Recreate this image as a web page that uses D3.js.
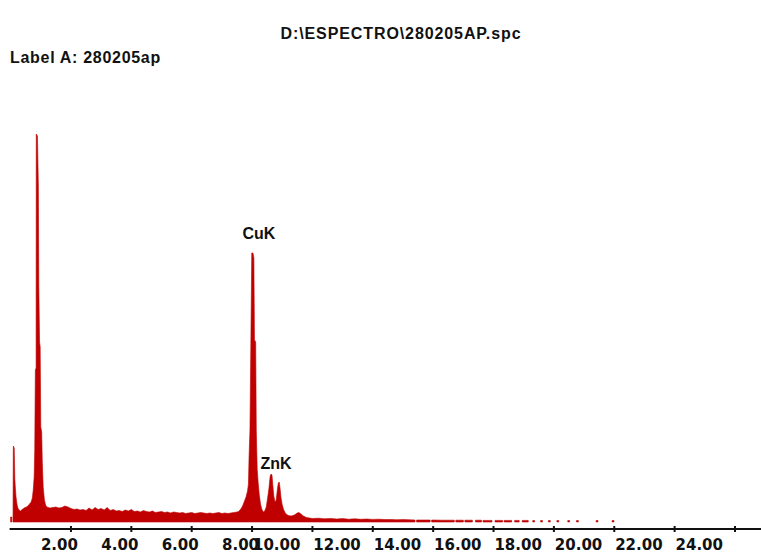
<!DOCTYPE html>
<html>
<head>
<meta charset="utf-8">
<script src="https://cdn.jsdelivr.net/npm/d3@7/dist/d3.min.js"></script>
<style>
  html, body { margin: 0; padding: 0; background: #fff; }
  svg { display: block; }
</style>
</head>
<body>
<div id="chart"></div>
<script>
// EDS spectrum of sample 280205ap: energy (keV) vs. counts.
// A null count marks a gap where no counts were recorded.
const energyKeV = [
  0.00, 0.04, 0.06,
  0.08, 0.09, 0.12, 0.14, 0.16, 0.18, 0.21, 0.24, 0.28, 0.33, 0.38, 0.43, 0.48, 0.53, 0.58, 0.63, 0.68,
  0.72, 0.75, 0.78, 0.80, 0.82, 0.845, 0.85, 0.89, 0.92, 0.935, 0.96, 0.98, 1.00, 1.03, 1.05, 1.08, 1.12, 1.16,
  1.2, 1.3, 1.4, 1.5, 1.6, 1.7, 1.8, 1.9, 2.0, 2.1, 2.2, 2.3, 2.4, 2.5, 2.6, 2.7, 2.8, 2.9,
  3.0, 3.1, 3.2, 3.3, 3.4, 3.5, 3.6, 3.7, 3.8, 3.9, 4.0, 4.1, 4.2, 4.3, 4.4, 4.5, 4.6, 4.7, 4.8, 4.9,
  5.0, 5.1, 5.2, 5.3, 5.4, 5.5, 5.6, 5.7, 5.8, 5.9, 6.0, 6.1, 6.2, 6.3, 6.4, 6.5, 6.6, 6.7, 6.8, 6.9,
  7.0, 7.1, 7.2, 7.3, 7.4, 7.5, 7.55, 7.6, 7.65, 7.7, 7.75, 7.8, 7.85, 7.88, 7.9, 7.93, 7.96, 7.99,
  8.03, 8.06, 8.08, 8.12, 8.14, 8.17, 8.2, 8.24, 8.28, 8.32, 8.37, 8.42, 8.47, 8.52, 8.56, 8.6, 8.63,
  8.66, 8.69, 8.72, 8.76, 8.8, 8.84, 8.87, 8.9, 8.93, 8.96, 9.0, 9.05, 9.1, 9.15, 9.2, 9.3, 9.4, 9.5,
  9.55, 9.6, 9.7, 9.8, 9.9, 10.0, 10.2, 10.4, 10.6, 10.8, 11.0, 11.2, 11.4, 11.6, 11.8, 12.0, 12.2,
  12.4, 12.6, 12.8, 13.0, 13.4, 13.42,
  13.45, 13.9, 13.92,
  13.95, 14.3, 14.7, 14.72,
  14.75, 15.0, 15.02,
  15.05, 15.3, 15.33,
  15.4, 15.6, 15.62,
  15.65, 15.95, 16.0,
  16.05, 16.3, 16.32,
  16.35, 16.6, 16.65,
  16.7, 16.85, 16.9,
  16.95, 17.15, 17.2,
  17.3, 17.36, 17.4,
  17.56, 17.62, 17.7,
  17.82, 17.88, 17.95,
  18.1, 18.16, 18.25,
  18.46, 18.52, 18.6,
  18.75, 18.81, 18.9,
  19.4, 19.46, 19.55,
  19.93, 19.99, 20.05
];
const counts = [
  50, 50, null,
  0, 760, 740, 430, 330, 250, 180, 140, 120, 110, 125, 135, 145, 150, 165, 180, 200,
  240, 320, 450, 720, 1520, 1540, 3880, 3860, 3350, 2350, 1800, 1750, 950, 900, 600, 350, 220, 170,
  150, 140, 145, 150, 140, 145, 160, 150, 135, 125, 130, 120, 125, 115, 140, 120, 145, 125,
  135, 120, 145, 115, 125, 110, 115, 105, 120, 110, 125, 105, 110, 100, 115, 105, 100, 110, 95, 100,
  105, 95, 100, 90, 100, 95, 90, 95, 85, 90, 95, 85, 90, 95, 90, 85, 90, 85, 90, 95,
  85, 90, 85, 90, 95, 100, 105, 120, 140, 170, 210, 250, 310, 380, 650, 920, 1790, 2690,
  2690, 2640, 1820, 1800, 920, 530, 400, 270, 180, 130, 100, 110, 150, 250, 340, 460, 480,
  470, 360, 260, 200, 220, 330, 390, 400, 330, 240, 170, 120, 90, 75, 65, 60, 70, 90,
  95, 85, 60, 45, 40, 35, 38, 32, 36, 30, 34, 28, 32, 27, 30, 26, 28,
  24, 25, 22, 24, 20, null,
  20, 20, null,
  20, 18, 18, null,
  18, 18, null,
  18, 18, null,
  18, 18, null,
  16, 16, null,
  16, 16, null,
  16, 16, null,
  16, 16, null,
  16, 16, null,
  15, 15, null,
  15, 15, null,
  15, 15, null,
  15, 15, null,
  15, 15, null,
  15, 15, null,
  15, 15, null,
  15, 15, null
];

// Axis ticks (keV) and their printed labels
const tickValues = [2, 4, 6, 8, 10, 12, 14, 16, 18, 20, 22, 24];
const tickLabels = ["2.00", "4.00", "6.00", "8.00", "10.00", "12.00", "14.00", "16.00", "18.00", "20.00", "22.00", "24.00"];

// Peak identifications, anchored at the peak maximum
const peakNames = ["CuK", "ZnK"];
const peakEnergy = [8.03, 8.63];
const peakCounts = [2690, 480];

const titleText = "D:\\ESPECTRO\\280205AP.spc";
const labelText = "Label A: 280205ap";

const W = 761, H = 554;
const svg = d3.select("#chart").append("svg")
  .attr("width", W).attr("height", H)
  .style("background", "#fff");

const x = d3.scaleLinear().domain([0, 24]).range([10.6, 735]);
const y = d3.scaleLinear().domain([0, 4000]).range([522, 122]);
const axisY = 529;
const red = "#c00000";

const spectrum = energyKeV.map((e, i) => ({ e, c: counts[i] }));

const area = d3.area()
  .defined(d => d.c !== null)
  .x(d => x(d.e))
  .y0(y(0))
  .y1(d => y(d.c))
  .curve(d3.curveLinear);

svg.append("path")
  .datum(spectrum)
  .attr("d", area)
  .attr("fill", red)
  .attr("stroke", red)
  .attr("stroke-width", 0.6);

// Energy axis
const axisG = svg.append("g");
axisG.append("line")
  .attr("x1", x(0) - 1).attr("x2", W)
  .attr("y1", axisY).attr("y2", axisY)
  .attr("stroke", "#111").attr("stroke-width", 2);

axisG.selectAll("line.tick")
  .data(tickValues)
  .join("line")
  .attr("class", "tick")
  .attr("x1", d => x(d)).attr("x2", d => x(d))
  .attr("y1", axisY - 3).attr("y2", axisY + 3)
  .attr("stroke", "#111").attr("stroke-width", 2);

axisG.selectAll("text.tl")
  .data(tickValues)
  .join("text")
  .attr("class", "tl")
  .attr("x", (d, i) => x(d) + (tickLabels[i].length > 4 ? -12 : 7))
  .attr("y", 550)
  .attr("text-anchor", "end")
  .attr("font-family", "'DejaVu Sans', sans-serif")
  .attr("font-weight", "bold")
  .attr("font-size", 15)
  .attr("fill", "#111")
  .text((d, i) => tickLabels[i]);

// Peak labels
const labelOffsets = [{ dx: 6, dy: -14 }, { dx: 5, dy: -5 }];
svg.selectAll("text.peak")
  .data(peakNames)
  .join("text")
  .attr("class", "peak")
  .attr("x", (d, i) => x(peakEnergy[i]) + labelOffsets[i].dx)
  .attr("y", (d, i) => y(peakCounts[i]) + labelOffsets[i].dy)
  .attr("text-anchor", "middle")
  .attr("font-family", "'Liberation Sans', Arial, sans-serif")
  .attr("font-weight", "bold")
  .attr("font-size", 16)
  .attr("fill", "#111")
  .text(d => d);

// Header texts
svg.append("text")
  .attr("x", 401).attr("y", 39)
  .attr("text-anchor", "middle")
  .attr("font-family", "'Liberation Sans', Arial, sans-serif")
  .attr("font-weight", "bold")
  .attr("font-size", 16)
  .attr("letter-spacing", 0.9)
  .attr("fill", "#111")
  .text(titleText);

svg.append("text")
  .attr("x", 10).attr("y", 63)
  .attr("font-family", "'Liberation Sans', Arial, sans-serif")
  .attr("font-weight", "bold")
  .attr("font-size", 16)
  .attr("letter-spacing", 0.7)
  .attr("fill", "#111")
  .text(labelText);
</script>
</body>
</html>
